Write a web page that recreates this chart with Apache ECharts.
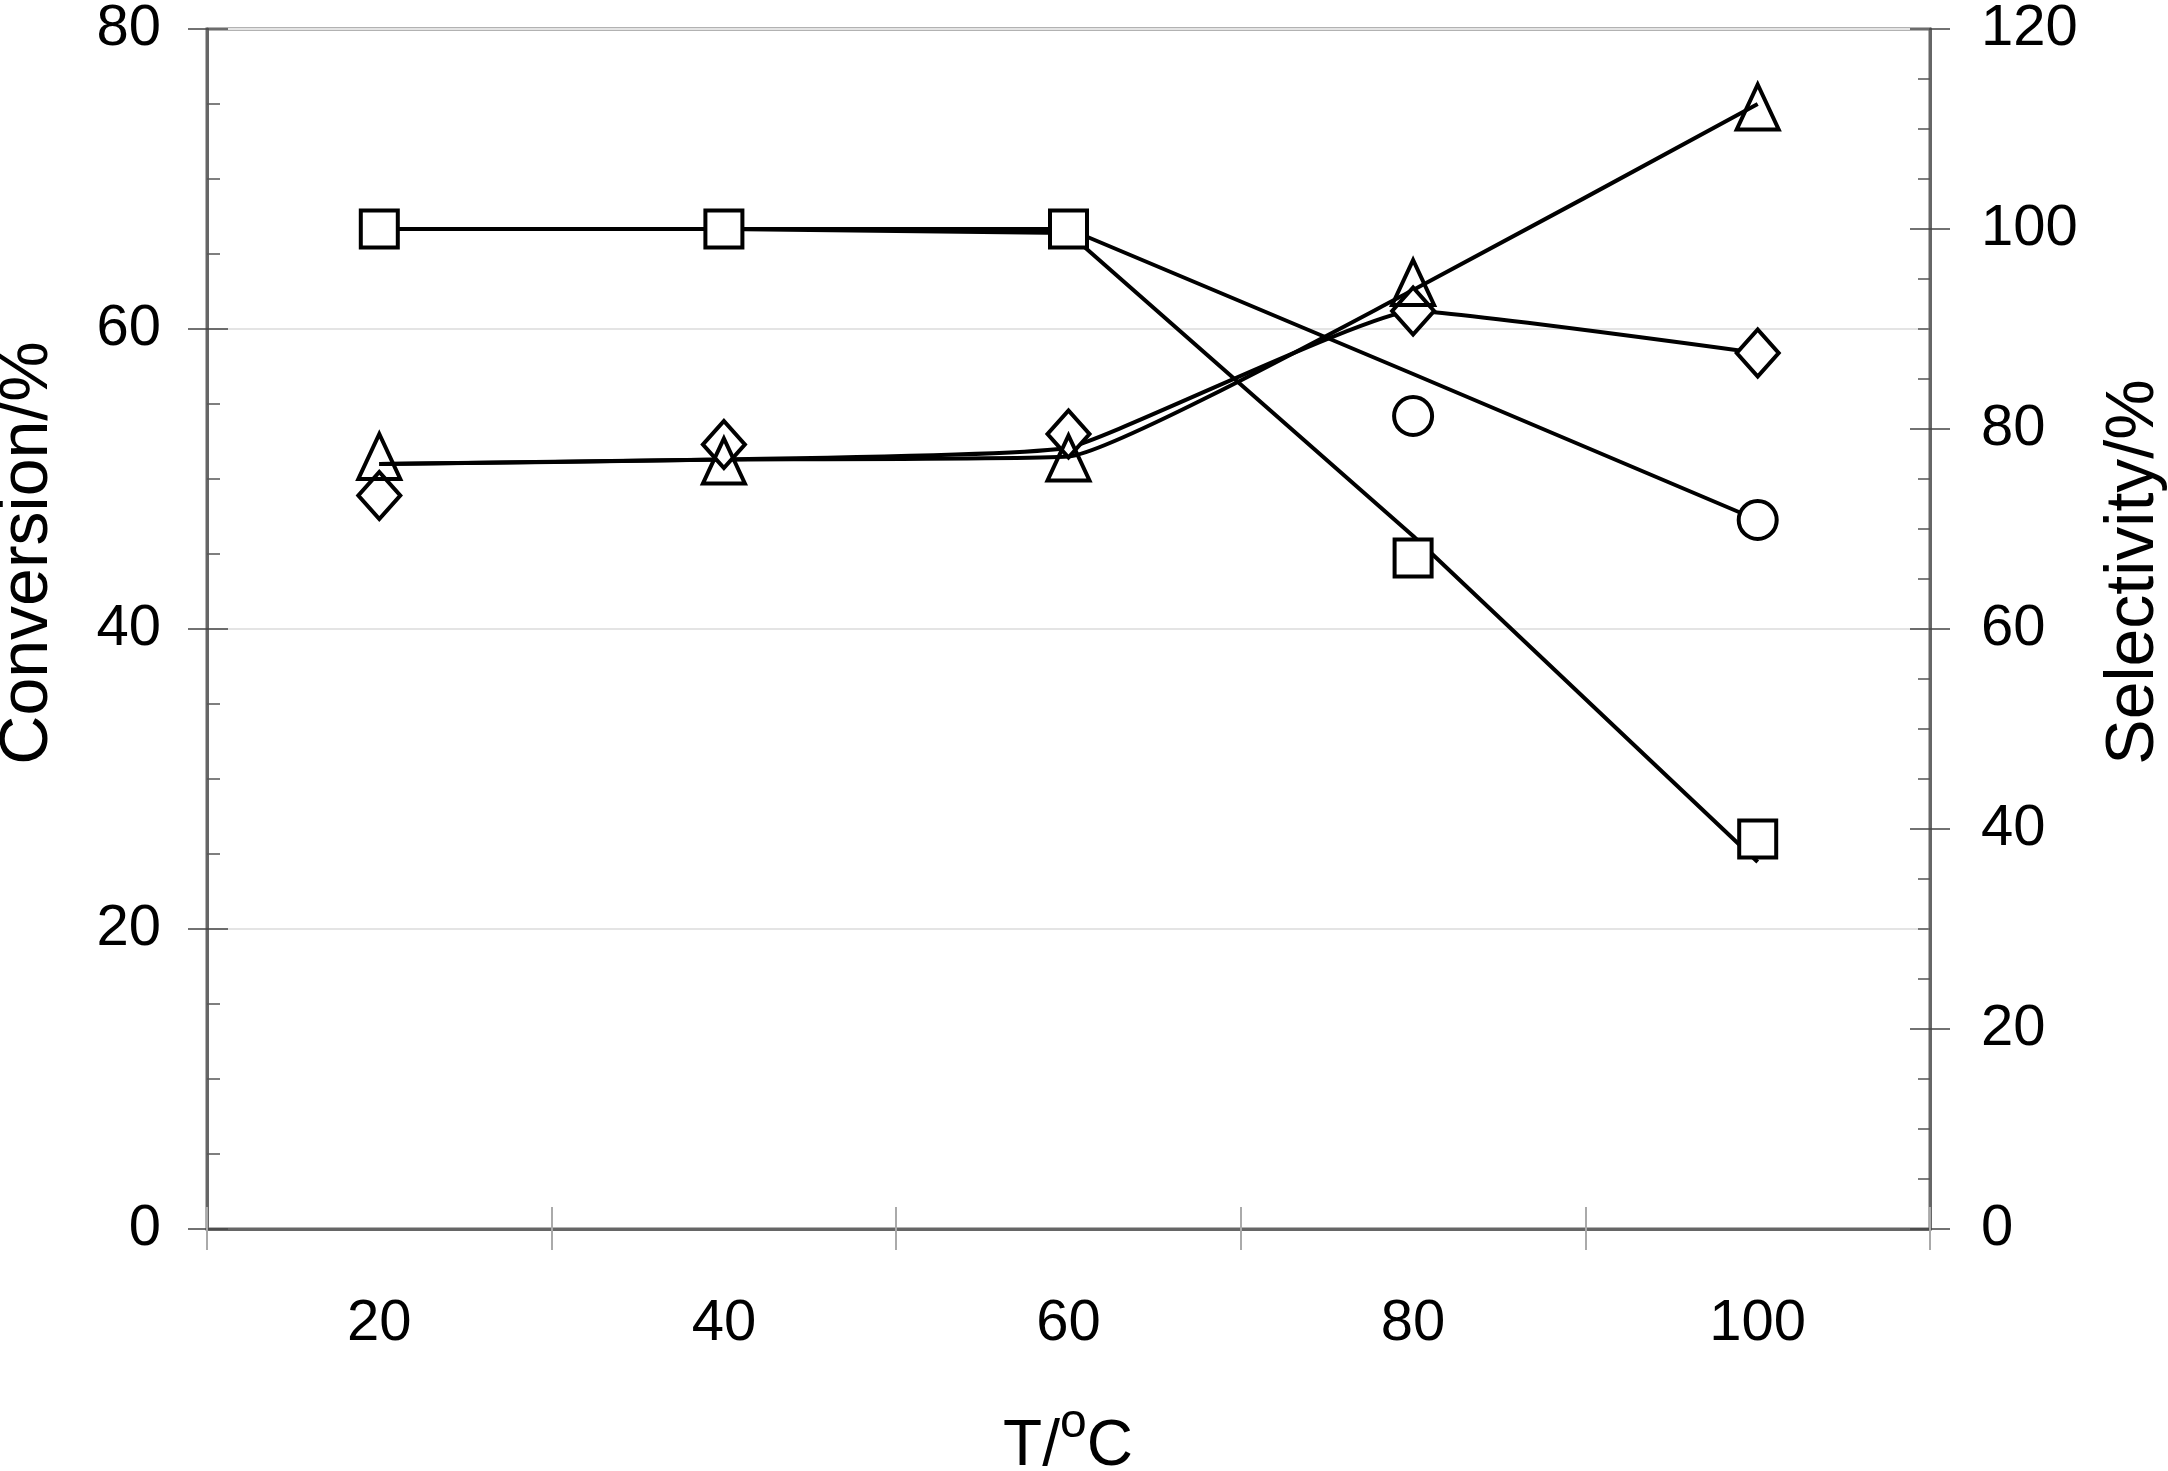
<!DOCTYPE html>
<html>
<head>
<meta charset="utf-8">
<script src="https://cdn.jsdelivr.net/npm/echarts@6/dist/echarts.min.js"></script>
<style>
html,body{margin:0;padding:0;background:#fff;}
#chart{width:2168px;height:1471px;}
</style>
</head>
<body>
<div id="chart"></div>
<script>
// Categories (temperature, °C)
var categories = ['20', '40', '60', '80', '100'];

// Marker values
var squareSel   = [100, 100, 100, 67.1, 39.0];      // right axis (Selectivity/%)
var circleSel   = ['-', '-', '-', 81.3, 70.9];      // right axis
var triangleConv = [51.5, 51.2, 51.4, 63.1, 74.8];  // left axis (Conversion/%)
var diamondVal  = [48.9, 52.3, 53.0, 61.2, 58.4];   // left axis

// Connecting lines (drawn separately in the original)
var lineSquare = [100, 100, 99.6, 69.3, 36.7];      // right axis
var lineCircle = [100, 100, 100, 85.5, 70.9];       // right axis
var lineTri    = [51.0, 51.3, 51.5, 62.6, 75.0];    // left axis
var lineDia    = [51.0, 51.3, 52.1, 61.2, 58.4];    // left axis

// Axis tick settings
var convMax = 80, convStep = 20;
var selMax = 120, selStep = 20;

var chart = echarts.init(document.getElementById('chart'), null, {renderer: 'canvas'});

var FONT = 'Liberation Sans, Arial, sans-serif';
var AXIS_GRAY = '#666666';

function markerStyle(fill) {
  return {color: fill, borderColor: '#000', borderWidth: 4, opacity: 1};
}

var option = {
  animation: false,
  backgroundColor: '#fff',
  textStyle: {fontFamily: FONT, color: '#000'},
  grid: {left: 207, right: 238, top: 23, bottom: 242, show: true, borderColor: AXIS_GRAY, borderWidth: 3, containLabel: false},
  xAxis: [
    {
      type: 'category', data: categories, boundaryGap: true, position: 'bottom',
      axisLine: {show: true, onZero: false, lineStyle: {color: AXIS_GRAY, width: 3}},
      axisTick: {show: true, inside: false, length: 21, lineStyle: {color: '#aaa', width: 2}},
      axisLabel: {fontSize: 58, color: '#000', margin: 66, fontFamily: FONT},
      splitLine: {show: false}
    },
    {
      type: 'category', data: categories, boundaryGap: true, position: 'bottom',
      axisLine: {show: false, onZero: false},
      axisTick: {show: true, inside: true, length: 22, lineStyle: {color: '#aaa', width: 2}},
      axisLabel: {show: false},
      splitLine: {show: false}
    }
  ],
  yAxis: [
    {
      type: 'value', min: 0, max: convMax, interval: convStep, position: 'left',
      axisLine: {show: true, lineStyle: {color: AXIS_GRAY, width: 3}},
      axisTick: {show: true, inside: true, length: 21, lineStyle: {color: '#444', width: 1.5}},
      minorTick: {show: true, splitNumber: 4, length: 13, lineStyle: {color: '#555', width: 1.5}},
      axisLabel: {fontSize: 58, color: '#000', margin: 46, fontFamily: FONT},
      splitLine: {show: true, lineStyle: {color: '#e4e4e4', width: 2}}
    },
    {
      type: 'value', min: 0, max: selMax, interval: selStep, position: 'right',
      axisLine: {show: true, lineStyle: {color: AXIS_GRAY, width: 3}},
      axisTick: {show: true, inside: true, length: 20, lineStyle: {color: '#444', width: 1.5}},
      minorTick: {show: true, splitNumber: 4, length: 12, lineStyle: {color: '#555', width: 1.5}},
      axisLabel: {fontSize: 58, color: '#000', margin: 51, fontFamily: FONT},
      splitLine: {show: false}
    },
    {
      type: 'value', min: 0, max: convMax, interval: convStep, position: 'left',
      axisLine: {show: false},
      axisTick: {show: true, inside: false, length: 19, lineStyle: {color: '#444', width: 1.5}},
      axisLabel: {show: false}, splitLine: {show: false}
    },
    {
      type: 'value', min: 0, max: selMax, interval: selStep, position: 'right',
      axisLine: {show: false},
      axisTick: {show: true, inside: false, length: 20, lineStyle: {color: '#444', width: 1.5}},
      axisLabel: {show: false}, splitLine: {show: false}
    }
  ],
  series: [
    {name: 'lineSquare', type: 'line', yAxisIndex: 1, data: lineSquare, showSymbol: false, z: 2,
      lineStyle: {color: '#000', width: 4}},
    {name: 'lineCircle', type: 'line', yAxisIndex: 1, data: lineCircle, showSymbol: false, z: 2,
      lineStyle: {color: '#000', width: 4}},
    {name: 'lineTri', type: 'line', yAxisIndex: 0, data: lineTri, showSymbol: false, smooth: 0.12, z: 2,
      lineStyle: {color: '#000', width: 4}},
    {name: 'lineDia', type: 'line', yAxisIndex: 0, data: lineDia, showSymbol: false, smooth: 0.12, z: 2,
      lineStyle: {color: '#000', width: 4}},
    {name: 'square', type: 'scatter', yAxisIndex: 1, data: squareSel, symbol: 'rect', symbolSize: [37, 37], z: 3,
      itemStyle: markerStyle('#fff')},
    {name: 'circle', type: 'scatter', yAxisIndex: 1, data: circleSel, symbol: 'circle', symbolSize: 38, z: 3,
      itemStyle: markerStyle('#fff')},
    {name: 'diamond', type: 'scatter', yAxisIndex: 0, data: diamondVal, symbol: 'diamond', symbolSize: [42, 47], z: 3,
      itemStyle: markerStyle('#fff')},
    {name: 'triangle', type: 'scatter', yAxisIndex: 0, data: triangleConv, symbol: 'triangle', symbolSize: [42, 45], z: 4,
      itemStyle: markerStyle('rgba(255,255,255,0)')}
  ],
  graphic: [
    {type: 'text', x: 28, y: 553, rotation: Math.PI / 2, z: 10,
      style: {text: 'Conversion/%', fontSize: 68, fontFamily: FONT, fill: '#000', align: 'center', verticalAlign: 'middle'}},
    {type: 'text', x: 2134, y: 572, rotation: Math.PI / 2, z: 10,
      style: {text: 'Selectivity/%', fontSize: 68, fontFamily: FONT, fill: '#000', align: 'center', verticalAlign: 'middle'}},
    {type: 'text', x: 1068, y: 1447, z: 10,
      style: {text: 'T/{s|o}C', fontSize: 64, fontFamily: FONT, fill: '#000', align: 'center', verticalAlign: 'middle',
        rich: {s: {fontSize: 48, fontFamily: FONT, fill: '#000', padding: [0, 0, 46, 0]}}}}
  ]
};
chart.setOption(option);
</script>
</body>
</html>
